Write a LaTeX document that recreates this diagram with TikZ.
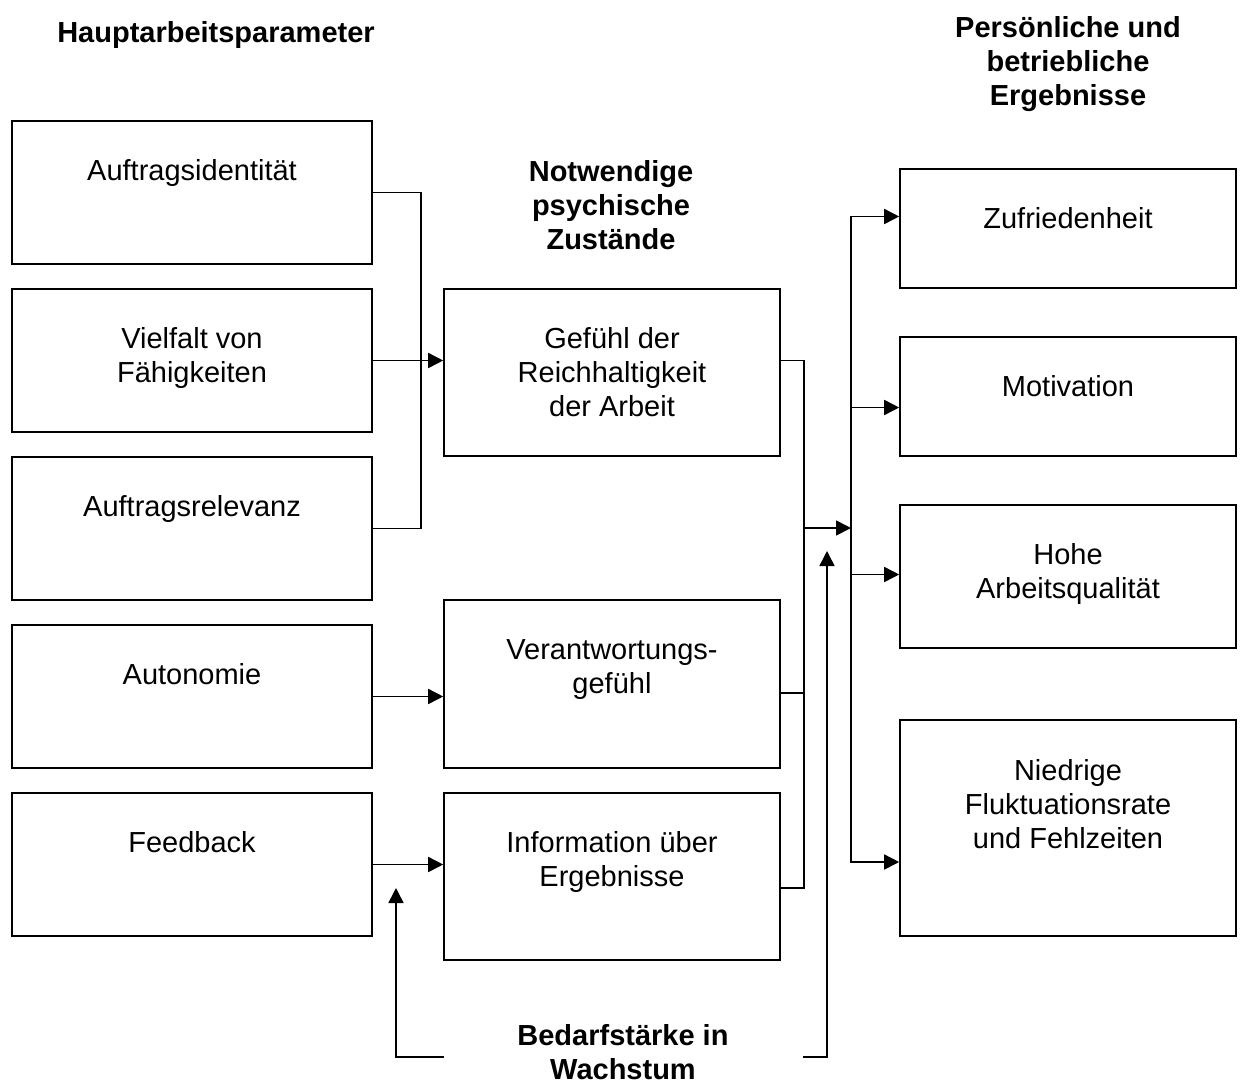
\documentclass[tikz,border=0pt]{standalone}
\usepackage{fontspec}
\setmainfont{Liberation Sans}
\usetikzlibrary{arrows.meta,calc}
\begin{document}
\begin{tikzpicture}[x=1pt,y=-1pt,
  box/.style={draw, line width=1.6pt, inner sep=0pt},
  txt/.style={align=center, font=\fontsize{29}{34}\selectfont, inner sep=0pt, anchor=north},
  head/.style={align=center, font=\fontsize{29}{34}\selectfont\bfseries, inner sep=0pt, anchor=north},
  conn/.style={line width=1.6pt},
  arr/.style={line width=1.6pt, -{Triangle[length=15pt,width=15pt]}}]
\useasboundingbox (0,0) rectangle (1242,1084);
% headings
\node[head] (h1) at (216,21) {Hauptarbeitsparameter};
\node[head] (h2) at (1068,16) {Persönliche und\\betriebliche\\Ergebnisse};
\node[head] (h3) at (611,160) {Notwendige\\psychische\\Zustände};
\node[head] (h4) at (623,1024) {Bedarfstärke in\\Wachstum};
% left boxes
\node[box, minimum width=360pt, minimum height=143pt] (b1) at (192,192.5) {};
\node[box, minimum width=360pt, minimum height=143pt] (b2) at (192,360.5) {};
\node[box, minimum width=360pt, minimum height=143pt] (b3) at (192,528.5) {};
\node[box, minimum width=360pt, minimum height=143pt] (b4) at (192,696.5) {};
\node[box, minimum width=360pt, minimum height=143pt] (b5) at (192,864.5) {};
\node[txt] (t1) at ($(b1.north)+(0,39)$) {Auftragsidentität};
\node[txt] (t2) at ($(b2.north)+(0,39)$) {Vielfalt von\\Fähigkeiten};
\node[txt] (t3) at ($(b3.north)+(0,39)$) {Auftragsrelevanz};
\node[txt] (t4) at ($(b4.north)+(0,39)$) {Autonomie};
\node[txt] (t5) at ($(b5.north)+(0,39)$) {Feedback};
% middle boxes
\node[box, minimum width=336pt, minimum height=167pt] (gA) at (612,372.5) {};
\node[box, minimum width=336pt, minimum height=168pt] (gB) at (612,684) {};
\node[box, minimum width=336pt, minimum height=167pt] (gC) at (612,876.5) {};
\node[txt] (tA) at ($(gA.north)+(0,39)$) {Gefühl der\\Reichhaltigkeit\\der Arbeit};
\node[txt] (tB) at ($(gB.north)+(0,40)$) {Verantwortungs-\\gefühl};
\node[txt] (tC) at ($(gC.north)+(0,39)$) {Information über\\Ergebnisse};
% right boxes
\node[box, minimum width=336pt, minimum height=119pt] (z) at (1068,228.5) {};
\node[box, minimum width=336pt, minimum height=119pt] (m) at (1068,396.5) {};
\node[box, minimum width=336pt, minimum height=143pt] (q) at (1068,576.5) {};
\node[box, minimum width=336pt, minimum height=216pt] (n) at (1068,828) {};
\node[txt] (tz) at ($(z.north)+(0,39)$) {Zufriedenheit};
\node[txt] (tm) at ($(m.north)+(0,39)$) {Motivation};
\node[txt] (tq) at ($(q.north)+(0,39)$) {Hohe\\Arbeitsqualität};
\node[txt] (tn) at ($(n.north)+(0,40)$) {Niedrige\\Fluktuationsrate\\und Fehlzeiten};
% left connectors
\draw[conn] (b1.east) -- ++(48,0) |- (b3.east);
\draw[arr] (b2.east) -- (gA.west |- b2.east);
\draw[arr] (b4.east) -- (gB.west |- b4.east);
\draw[arr] (b5.east) -- (gC.west |- b5.east);
% middle to right
\coordinate (v1) at (804,528);
\coordinate (v2) at (851,528);
\draw[conn] (gA.east |- b2.east) -| (v1) |- ($(gC.east)+(0,11.5)$);
\draw[conn] ($(gB.east)+(0,9)$) -- (v1 |- 0,693);
\draw[arr] (v1) -- (v2);
\draw[arr] (v2) |- ($(z.west)+(0,-12)$);
\draw[arr] (v2) |- ($(m.west)+(0,11)$);
\draw[arr] (v2) |- ($(q.west)+(0,-2)$);
\draw[arr] (v2) |- ($(n.west)+(0,34)$);
% growth need strength
\coordinate (g1) at (444,1057);
\coordinate (u1) at (396,888);
\coordinate (g2) at (803,1057);
\coordinate (u2) at (827,551);
\draw[arr] (g1) -| (u1);
\draw[arr] (g2) -| (u2);
\end{tikzpicture}
\end{document}
